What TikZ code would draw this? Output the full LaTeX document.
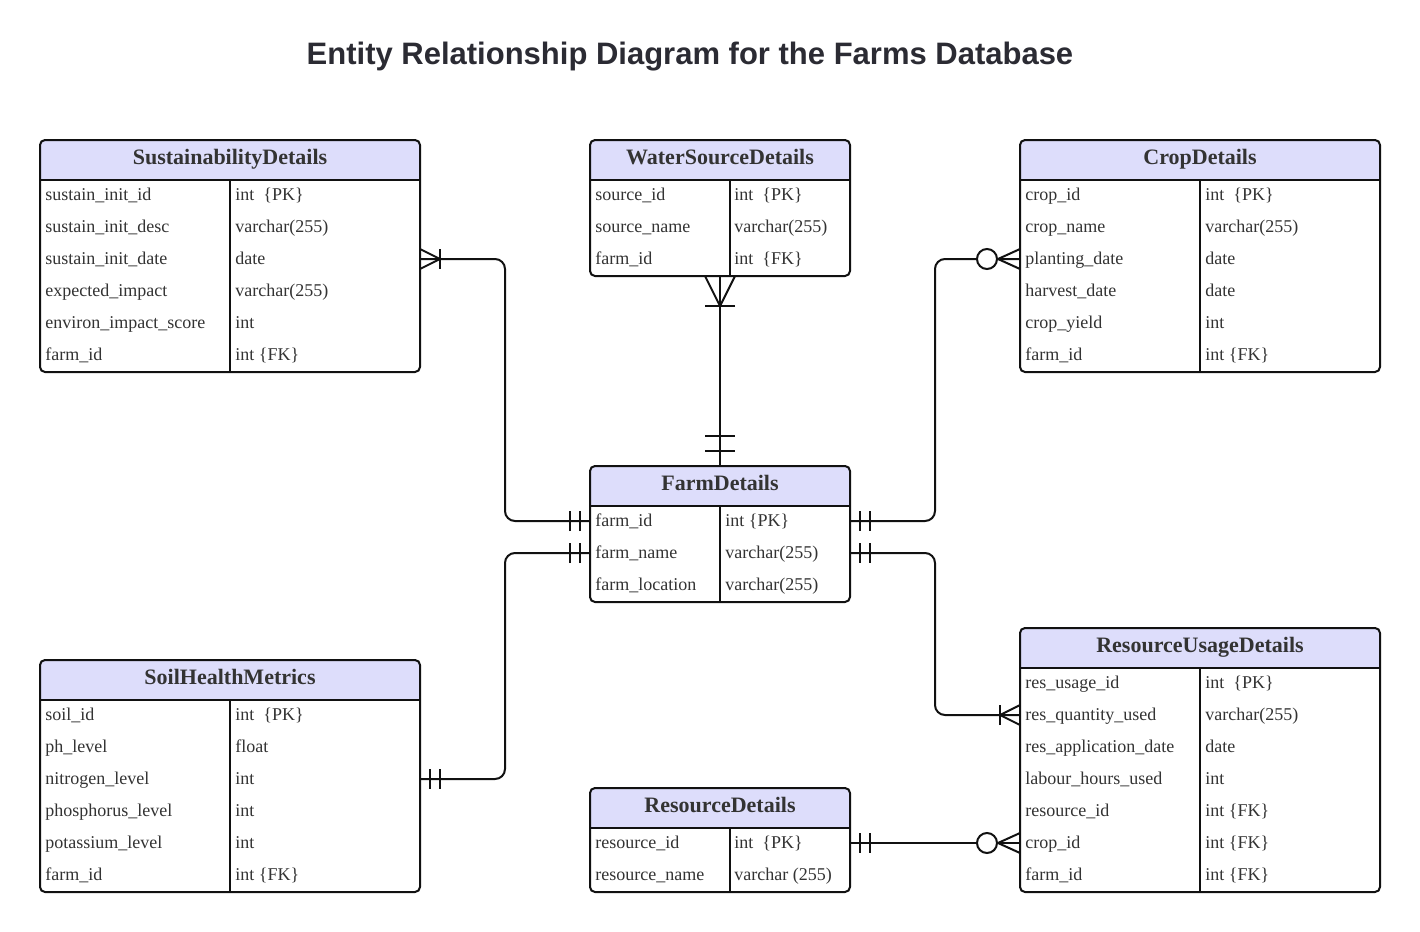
\documentclass[tikz,border=0pt]{standalone}
\usepackage{fontspec}
\setmainfont{Liberation Serif}
\newfontfamily\titlefont{Liberation Sans}
\usetikzlibrary{calc}
\definecolor{ink}{HTML}{111111}
\definecolor{headfill}{HTML}{DDDDFB}
\definecolor{textgray}{HTML}{333333}
\definecolor{titlegray}{HTML}{2B2B33}
\tikzset{
  title/.style={font=\titlefont\bfseries\fontsize{15.5}{18}\selectfont,text=titlegray},
  tblhead/.style={font=\bfseries\fontsize{11}{13}\selectfont,text=textgray,inner sep=0pt,text height=1.7ex,text depth=.5ex},
  tblframe/.style={draw=ink,line width=1pt,rounded corners=2.5pt,inner sep=0pt,outer sep=0pt},
  tblline/.style={draw=ink,line width=1pt},
  field/.style={font=\fontsize{9}{11}\selectfont,text=textgray,anchor=west,inner sep=0pt,text height=1.6ex,text depth=.5ex},
  rel/.style={draw=ink,line width=1pt,rounded corners=5pt},
  mk/.style={draw=ink,line width=1pt},
  onlyone/.pic={\draw[mk] (10,-10)--(10,10); \draw[mk] (20,-10)--(20,10);},
  onemany/.pic={\draw[mk] (0,-10)--(20,0)--(0,10); \draw[mk] (20,-10)--(20,10);},
  zeromany/.pic={\draw[mk] (0,-10)--(22,0)--(0,10); \draw[mk,fill=white] (33,0) circle[radius=5pt];}
}
% #1 name, #2 left, #3 top, #4 width, #5 column line, #6 height, #7 title
\newcommand{\ertable}[7]{%
  \begin{scope}
    \clip[rounded corners=2.5pt] (#2,#3) rectangle ++(#4,#6);
    \fill[headfill] (#2,#3) rectangle ++(#4,40);
  \end{scope}
  \draw[tblline] (#2,#3+40) -- ++(#4,0);
  \draw[tblline] (#5,#3+40) -- (#5,#3+#6);
  \node[tblframe,minimum width=#4*0.5pt,minimum height=#6*0.5pt,anchor=north west] (#1) at (#2,#3) {};
  \node[tblhead] (#1-h) at (#2+#4/2,#3+19) {#7};
}

\begin{document}
\begin{tikzpicture}[x=0.5pt,y=-0.5pt]
\path[fill=white,use as bounding box] (0,0) rectangle (1420,932);
\node[title] (ttl) at (690,57) {Entity Relationship Diagram for the Farms Database};

% SustainabilityDetails
\ertable{sd}{40}{140}{380}{230}{232}{SustainabilityDetails}
\foreach \f/\t [count=\i] in {sustain\_init\_id/int~~\{PK\},sustain\_init\_desc/varchar(255),sustain\_init\_date/date,expected\_impact/varchar(255),environ\_impact\_score/int,farm\_id/int \{FK\}}{
  \node[field] (sd-\i) at (45,163+32*\i) {\f};
  \node[field] (sd-t\i) at (235,163+32*\i) {\t};
}
% WaterSourceDetails
\ertable{ws}{590}{140}{260}{730}{136}{WaterSourceDetails}
\foreach \f/\t [count=\i] in {source\_id/int~~\{PK\},source\_name/varchar(255),farm\_id/int~~\{FK\}}{
  \node[field] (ws-\i) at (595,163+32*\i) {\f};
  \node[field] (ws-t\i) at (734,163+32*\i) {\t};
}
% CropDetails
\ertable{cd}{1020}{140}{360}{1200}{232}{CropDetails}
\foreach \f/\t [count=\i] in {crop\_id/int~~\{PK\},crop\_name/varchar(255),planting\_date/date,harvest\_date/date,crop\_yield/int,farm\_id/int \{FK\}}{
  \node[field] (cd-\i) at (1025,163+32*\i) {\f};
  \node[field] (cd-t\i) at (1205,163+32*\i) {\t};
}
% FarmDetails
\ertable{fd}{590}{466}{260}{720}{136}{FarmDetails}
\foreach \f/\t [count=\i] in {farm\_id/int \{PK\},farm\_name/varchar(255),farm\_location/varchar(255)}{
  \node[field] (fd-\i) at (595,489+32*\i) {\f};
  \node[field] (fd-t\i) at (725,489+32*\i) {\t};
}
% SoilHealthMetrics
\ertable{sh}{40}{660}{380}{230}{232}{SoilHealthMetrics}
\foreach \f/\t [count=\i] in {soil\_id/int~~\{PK\},ph\_level/float,nitrogen\_level/int,phosphorus\_level/int,potassium\_level/int,farm\_id/int \{FK\}}{
  \node[field] (sh-\i) at (45,683+32*\i) {\f};
  \node[field] (sh-t\i) at (235,683+32*\i) {\t};
}
% ResourceUsageDetails
\ertable{ru}{1020}{628}{360}{1200}{264}{ResourceUsageDetails}
\foreach \f/\t [count=\i] in {res\_usage\_id/int~~\{PK\},res\_quantity\_used/varchar(255),res\_application\_date/date,labour\_hours\_used/int,resource\_id/int \{FK\},crop\_id/int \{FK\},farm\_id/int \{FK\}}{
  \node[field] (ru-\i) at (1025,651+32*\i) {\f};
  \node[field] (ru-t\i) at (1205,651+32*\i) {\t};
}
% ResourceDetails
\ertable{rd}{590}{788}{260}{730}{104}{ResourceDetails}
\foreach \f/\t [count=\i] in {resource\_id/int~~\{PK\},resource\_name/varchar (255)}{
  \node[field] (rd-\i) at (595,811+32*\i) {\f};
  \node[field] (rd-t\i) at (734,811+32*\i) {\t};
}

% relationships
\coordinate (busL) at (505,0);
\coordinate (busR) at (935,0);
\draw[rel] (sd.east |- sd-3) -- (busL |- sd-3) -- (busL |- fd-1) -- (fd.west |- fd-1);
\draw[rel] (ws.south) -- (fd.north);
\draw[rel] (cd.west |- cd-3) -- (busR |- cd-3) -- (busR |- fd-1) -- (fd.east |- fd-1);
\draw[rel] (fd.east |- fd-2) -- (busR |- fd-2) -- (busR |- ru-2) -- (ru.west |- ru-2);
\draw[rel] (fd.west |- fd-2) -- (busL |- fd-2) -- (busL |- sh-3) -- (sh.east |- sh-3);
\draw[rel] (rd.east |- rd-1) -- (ru.west |- ru-6);

\pic at (sd.east |- sd-3) {onemany};
\pic[rotate=180] at (fd.west |- fd-1) {onlyone};
\pic[rotate=-90,scale=1.5] at (ws.south) {onemany};
\pic[rotate=90,scale=1.5] at (fd.north) {onlyone};
\pic[rotate=180] at (cd.west |- cd-3) {zeromany};
\pic at (fd.east |- fd-1) {onlyone};
\pic at (fd.east |- fd-2) {onlyone};
\pic[rotate=180] at (ru.west |- ru-2) {onemany};
\pic[rotate=180] at (fd.west |- fd-2) {onlyone};
\pic at (sh.east |- sh-3) {onlyone};
\pic at (rd.east |- rd-1) {onlyone};
\pic[rotate=180] at (ru.west |- ru-6) {zeromany};
\end{tikzpicture}
\end{document}
